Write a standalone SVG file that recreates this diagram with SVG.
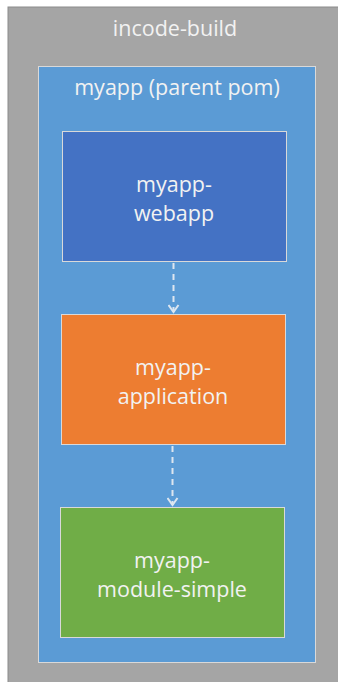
<svg xmlns="http://www.w3.org/2000/svg" width="338" height="682" viewBox="0 0 338 682">
<style>
.t{font-family:"Open Sans","Liberation Sans",sans-serif;font-size:21.5px;fill:#F2F2F2;text-anchor:middle}
.box{stroke:#D9D9D9;stroke-width:1}
.conn{stroke:#DDE6F0;stroke-width:2;stroke-dasharray:6,5;fill:none}
</style>
<defs>
<marker id="arr" markerWidth="10" markerHeight="12" refX="8" refY="6" orient="auto" markerUnits="userSpaceOnUse" viewBox="0 0 10 12">
<path d="M1,1 L8,6 L1,11" fill="none" stroke="#DDE6F0" stroke-width="2"/>
</marker>
</defs>
<rect width="338" height="682" fill="#FFFFFF"/>
<g id="incode-build">
<rect x="8" y="7" width="340" height="690" fill="#A5A5A5" stroke="#8C8C8C" stroke-width="1"/>
<text class="t" x="175" y="36">incode-build</text>
</g>
<g id="myapp">
<rect class="box" x="38.5" y="66.5" width="277" height="596" fill="#5B9BD5"/>
<text class="t" x="177" y="95">myapp (parent pom)</text>
</g>
<g id="myapp-webapp">
<rect class="box" x="62.5" y="131.5" width="224" height="130" fill="#4472C4"/>
<text class="t" x="174" y="192">myapp-</text>
<text class="t" x="174" y="221">webapp</text>
</g>
<g id="myapp-application">
<rect class="box" x="61.5" y="314.5" width="224" height="130" fill="#ED7D31"/>
<text class="t" x="173" y="375">myapp-</text>
<text class="t" x="173" y="404">application</text>
</g>
<g id="myapp-module-simple">
<rect class="box" x="60.5" y="507.5" width="224" height="130" fill="#70AD47"/>
<text class="t" x="172" y="568">myapp-</text>
<text class="t" x="172" y="597">module-simple</text>
</g>
<g id="connectors">
<path class="conn" d="M173.5,263 L173.5,312" marker-end="url(#arr)"/>
<path class="conn" d="M172.5,446 L172.5,505" marker-end="url(#arr)"/>
</g>
</svg>
